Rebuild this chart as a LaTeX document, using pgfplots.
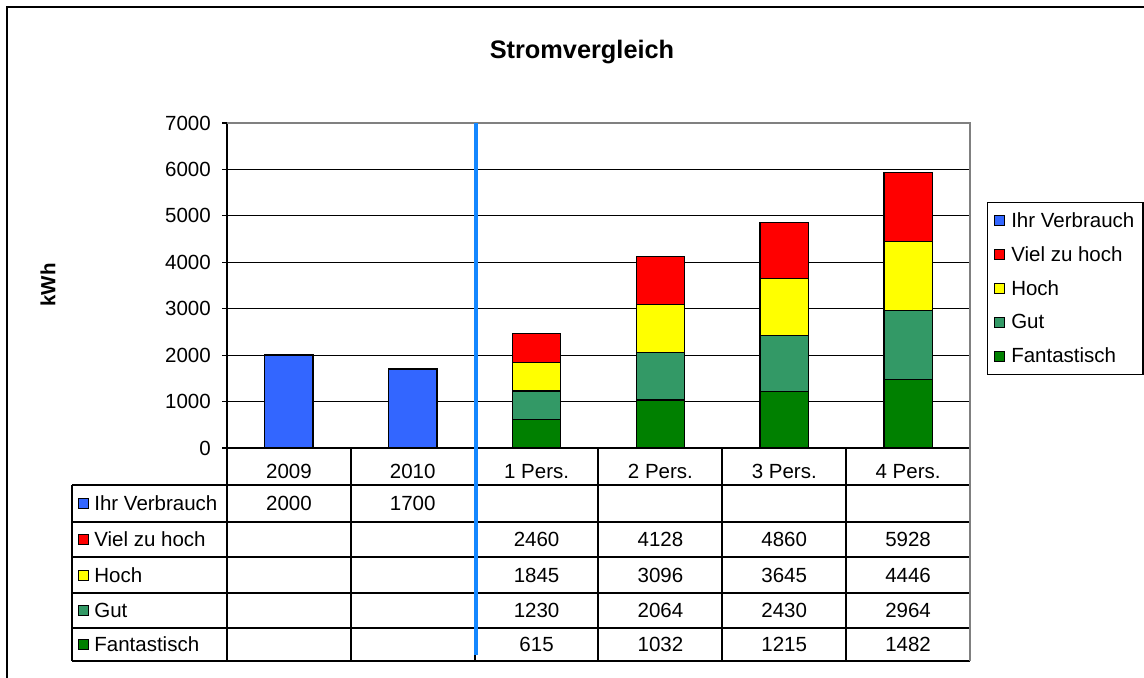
\documentclass[border=0pt]{standalone}
\usepackage{fontspec}
\setmainfont{Liberation Sans}
\usepackage{pgfplots}
\pgfplotsset{compat=1.18}
\definecolor{cblue}{RGB}{51,102,255}
\definecolor{cred}{RGB}{255,0,0}
\definecolor{cyellow}{RGB}{255,255,0}
\definecolor{cgut}{RGB}{51,153,102}
\definecolor{cfant}{RGB}{0,128,0}
\definecolor{cline}{RGB}{20,135,255}
\newcommand{\tf}{\fontsize{12.3}{14}\selectfont}
\newcommand{\tv}[3]{\node[font=\tf] at ([yshift=#2]axis cs:#1,0) {#3};}
\begin{document}
\begin{tikzpicture}
\useasboundingbox (0,0) rectangle (686.4pt,-406.8pt);
\fill[white] (0,0) rectangle (686.4pt,-406.8pt);
% outer frame (left and top)
\draw[black, line width=1.2pt] (4.2pt,-406.8pt) -- (4.2pt,-4.2pt) -- (686.4pt,-4.2pt);
% title and y label
\node[font=\fontsize{15.2}{17}\selectfont\bfseries] at (349.2pt,-31.2pt) {Stromvergleich};
\node[font=\tf\bfseries, rotate=90] at (28.8pt,-171pt) {kWh};
\begin{axis}[
  at={(136.2pt,-268.8pt)}, anchor=south west,
  scale only axis, width=445.8pt, height=195pt,
  xmin=-0.5, xmax=5.5, ymin=0, ymax=7000,
  ytick={0,1000,...,7000},
  xtick={0,...,5},
  xticklabels={2009,2010,1 Pers.,2 Pers.,3 Pers.,4 Pers.},
  xtick style={draw=none},
  xticklabel style={anchor=center, yshift=-11.1pt},
  yticklabel style={xshift=-3.2pt},
  axis x line*=bottom, axis y line*=left,
  axis line style={black, line width=0.7pt, -},
  ytick style={black, line width=0.7pt},
  tick align=outside, major tick length=3pt,
  ymajorgrids, grid style={black, line width=0.7pt},
  tick label style={font=\tf},
  /pgf/number format/assume math mode=true,
  /pgf/number format/1000 sep={},
  ybar, bar width=0.39, bar shift=0pt,
  clip=false,
  legend image code/.code={\draw[#1,draw=black,line width=0.6pt] (0pt,-3pt) rectangle (6pt,3pt);},
  legend style={at={(1.0229,0.757)}, anchor=north west, draw=black, line width=0.7pt,
    font=\tf, row sep=7.6pt, column sep=2.4pt, inner xsep=4pt, inner ysep=4.6pt,
    nodes={inner sep=1.2pt}},
  legend cell align=left,
]
\addplot[fill=cblue, draw=black, line width=0.8pt] coordinates {(0,2000) (1,1700)};
\addplot[fill=cred, draw=black, line width=0.8pt] coordinates {(2,2460) (3,4128) (4,4860) (5,5928)};
\addplot[fill=cyellow, draw=black, line width=0.8pt] coordinates {(2,1845) (3,3096) (4,3645) (5,4446)};
\addplot[fill=cgut, draw=black, line width=0.8pt] coordinates {(2,1230) (3,2064) (4,2430) (5,2964)};
\addplot[fill=cfant, draw=black, line width=0.8pt] coordinates {(2,615) (3,1032) (4,1215) (5,1482)};
\legend{Ihr Verbrauch, Viel zu hoch, Hoch, Gut, Fantastisch}
% top and right border of plot area in grey
\draw[gray, line width=0.7pt] (rel axis cs:0,1) -- (rel axis cs:1,1) -- (rel axis cs:1,0);
% data table values
\tv{0}{-33.3pt}{2000} \tv{1}{-33.3pt}{1700}
\tv{2}{-54.9pt}{2460} \tv{3}{-54.9pt}{4128} \tv{4}{-54.9pt}{4860} \tv{5}{-54.9pt}{5928}
\tv{2}{-76.2pt}{1845} \tv{3}{-76.2pt}{3096} \tv{4}{-76.2pt}{3645} \tv{5}{-76.2pt}{4446}
\tv{2}{-97.5pt}{1230} \tv{3}{-97.5pt}{2064} \tv{4}{-97.5pt}{2430} \tv{5}{-97.5pt}{2964}
\tv{2}{-117.9pt}{615} \tv{3}{-117.9pt}{1032} \tv{4}{-117.9pt}{1215} \tv{5}{-117.9pt}{1482}
\end{axis}
% table grid
\begin{scope}[black, line width=0.7pt]
\foreach \y in {-291,-313.2,-334.2,-355.8,-376.8,-396.6} \draw (43.2pt,\y pt) -- (582pt,\y pt);
\draw (43.2pt,-291pt) -- (43.2pt,-396.6pt);
\foreach \x in {136.2,210.6,285,358.8,433.2,507.6} \draw (\x pt,-268.8pt) -- (\x pt,-396.6pt);
\draw[gray] (582pt,-268.8pt) -- (582pt,-396.6pt);
\end{scope}
% row labels with keys
\foreach \y/\c/\t in {-302.1/cblue/Ihr Verbrauch,-323.7/cred/Viel zu hoch,-345/cyellow/Hoch,-366.3/cgut/Gut,-386.7/cfant/Fantastisch}{
  \draw[fill=\c, draw=black, line width=0.6pt] (46.8pt,\y pt-3pt) rectangle (52.8pt,\y pt+3pt);
  \node[font=\tf, anchor=west, inner sep=0pt] at (56.4pt,\y pt) {\t};
}
% separator line
\draw[cline, line width=2.4pt] (285.6pt,-73.8pt) -- (285.6pt,-393pt);
\end{tikzpicture}
\end{document}
